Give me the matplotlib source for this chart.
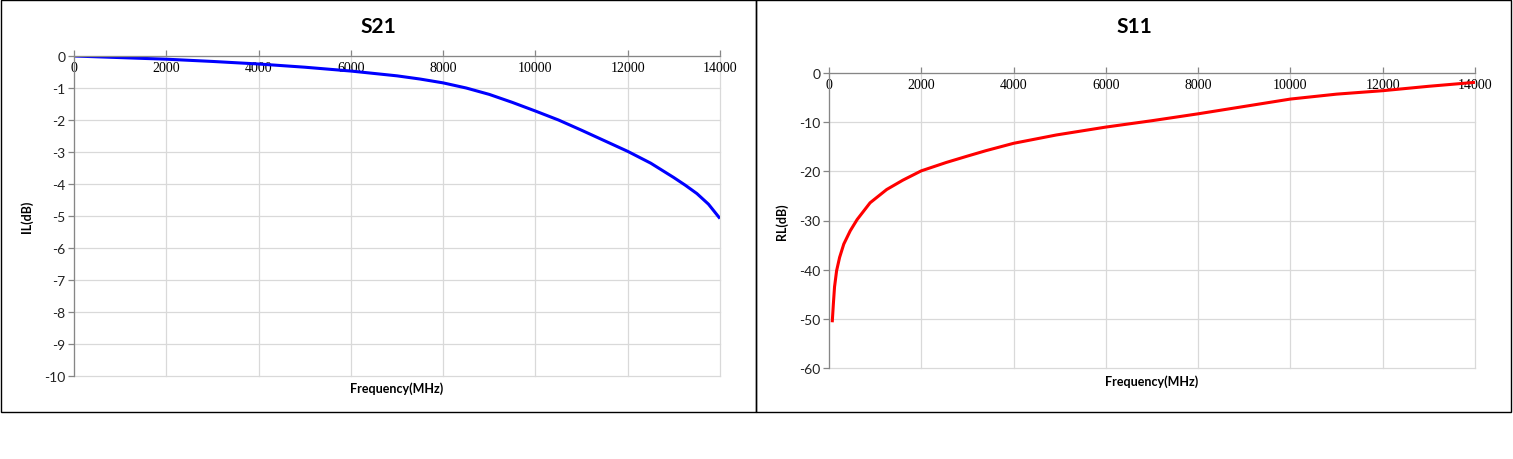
import matplotlib
matplotlib.use("Agg")
import matplotlib.pyplot as plt
from matplotlib.patches import Rectangle

plt.rcParams["axes.unicode_minus"] = False

# S21 insertion loss
s21_freq = [0, 1000, 2000, 3000, 4000, 5000, 6000, 7000, 7500, 8000, 8500, 9000, 9500,
            10000, 10500, 11000, 11500, 12000, 12500, 13000, 13250, 13500, 13750, 14000]
s21_il = [0, -0.05, -0.1, -0.17, -0.25, -0.35, -0.47, -0.62, -0.72, -0.84, -1.0, -1.2,
          -1.45, -1.72, -2.0, -2.32, -2.65, -2.98, -3.35, -3.8, -4.04, -4.3, -4.63, -5.08]

# S11 return loss
s11_freq = [70, 95, 120, 165, 230, 320, 460, 610, 890, 1250, 1600, 2000, 2540, 3000,
            3400, 4000, 4930, 6000, 7000, 8000, 9000, 10000, 11000, 12000, 13000, 14000]
s11_rl = [-50.7, -46.9, -43.5, -40.2, -37.5, -34.8, -32.1, -29.8, -26.4, -23.7, -21.8,
          -19.9, -18.2, -16.9, -15.8, -14.3, -12.6, -11.0, -9.7, -8.3, -6.8, -5.3, -4.3,
          -3.6, -2.7, -1.9]

x_ticks = [0, 2000, 4000, 6000, 8000, 10000, 12000, 14000]
il_ticks = list(range(0, -11, -1))
rl_ticks = list(range(0, -61, -10))

W, H = 1513, 460
fig = plt.figure(figsize=(W / 100, H / 100), dpi=100)
fig.patch.set_facecolor("white")

def px(x0, y0, x1, y1):
    # pixel box (top-down) -> figure fractions
    return [x0 / W, 1 - y1 / H, (x1 - x0) / W, (y1 - y0) / H]

def style_axes(ax, yticks, ylabel, xlab_y):
    ax.set_xlim(0, 14000)
    ax.set_ylim(yticks[-1], yticks[0])
    ax.set_xticks(x_ticks)
    ax.set_yticks(yticks)
    ax.grid(True, color="#d9d9d9", linewidth=0.9)
    ax.set_axisbelow(True)
    for g in ax.get_xgridlines() + ax.get_ygridlines():
        g.set_clip_on(False)
    for s in ["right", "bottom"]:
        ax.spines[s].set_visible(False)
    for s in ["left", "top"]:
        ax.spines[s].set_color("#868686")
        ax.spines[s].set_linewidth(0.9)
    ax.tick_params(axis="y", direction="out", length=4, color="#868686", width=0.9,
                   labelsize=10, labelcolor="#222222", pad=2)
    ax.tick_params(axis="x", top=True, bottom=False, labeltop=True, labelbottom=False,
                   direction="out", length=4, color="#868686", width=0.9, pad=-7.5)
    for t in ax.xaxis.get_major_ticks():
        t.label2.set_va("top")
        t.label2.set_fontfamily("Liberation Serif")
        t.label2.set_fontsize(10)
        t.gridline.set_clip_on(False)
    for t in ax.yaxis.get_major_ticks():
        t.gridline.set_clip_on(False)
    for lbl in ax.get_yticklabels():
        lbl.set_fontfamily("Lato")
    ax.set_ylabel(ylabel, fontsize=9, fontweight="bold", family="Lato")
    ax.yaxis.set_label_coords(-0.063, 0.5)
    ax.set_xlabel("Frequency(MHz)", fontsize=9, fontweight="bold", family="Lato")
    ax.xaxis.set_label_coords(0.5, xlab_y)
    ax.xaxis.label.set_va("center")

ax1 = fig.add_axes(px(74, 57, 720, 377))
ax1.plot(s21_freq, s21_il, color="#0000ff", linewidth=2.2, solid_capstyle="butt")
style_axes(ax1, il_ticks, "IL(dB)", -0.0375)

ax2 = fig.add_axes(px(829, 74, 1475, 369))
ax2.plot(s11_freq, s11_rl, color="#ff0000", linewidth=2.2, solid_capstyle="butt")
style_axes(ax2, rl_ticks, "RL(dB)", -0.044)

fig.text(378 / W, 1 - 27 / H, "S21", ha="center", va="center", fontsize=15,
         fontweight="bold", family="Lato")
fig.text(1134 / W, 1 - 27 / H, "S11", ha="center", va="center", fontsize=15,
         fontweight="bold", family="Lato")

# panel borders
for b in [(0.5, 0.5, 755.5, 412.5), (755.5, 0.5, 1510.5, 412.5)]:
    fig.patches.append(Rectangle((b[0] / W, 1 - b[3] / H), (b[2] - b[0]) / W,
                                 (b[3] - b[1]) / H, transform=fig.transFigure,
                                 fill=False, edgecolor="black", linewidth=1.0))

fig.savefig("out.png", dpi=100)
